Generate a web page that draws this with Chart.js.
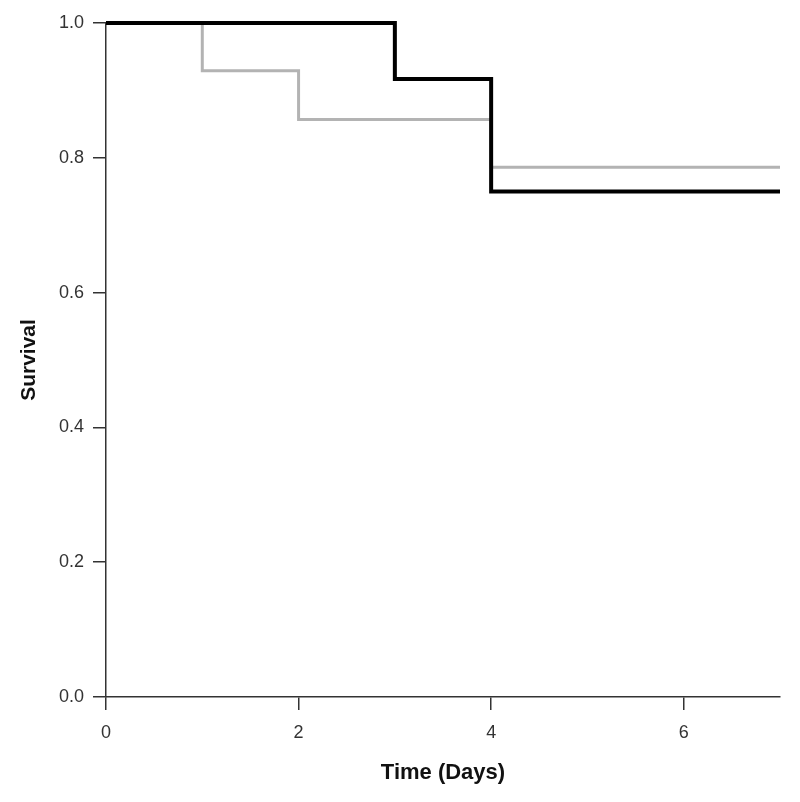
<!DOCTYPE html>
<html><head><meta charset="utf-8">
<script src="https://cdn.jsdelivr.net/npm/chart.js@4/dist/chart.umd.min.js"></script>
<style>html,body{margin:0;padding:0;background:#fff}#wrap{width:800px;height:802px}</style>
</head><body><div id="wrap"><canvas id="c" width="800" height="802"></canvas></div>
<script>
const blackTimes = [0, 3, 4, 7];
const blackSurv = [1.0, 0.917, 0.75, 0.75];
const grayTimes = [0, 1, 2, 4, 7];
const graySurv = [1.0, 0.929, 0.857, 0.786, 0.786];
const xTitle = 'Time (Days)';
const yTitle = 'Survival';

const toPts = (xs, ys) => xs.map((x, i) => ({x: x, y: ys[i]}));
const font = "'Liberation Sans', Arial, sans-serif";
const axisColor = '#333';

new Chart(document.getElementById('c'), {
  type: 'line',
  data: {datasets: [
    {data: toPts(blackTimes, blackSurv), stepped: 'before', borderColor: '#000', borderWidth: 4, pointRadius: 0, fill: false, clip: 6, order: 0},
    {data: toPts(grayTimes, graySurv), stepped: 'before', borderColor: '#b3b3b3', borderWidth: 3, pointRadius: 0, fill: false, clip: 6, order: 1}
  ]},
  options: {
    responsive: false, animation: false,
    layout: {padding: {top: 23, right: 20, left: 0, bottom: 0}},
    plugins: {legend: {display: false}, tooltip: {enabled: false}},
    scales: {
      x: {
        type: 'linear', min: 0, max: 7,
        afterFit: s => { s.height = 105; },
        ticks: {stepSize: 2, includeBounds: false, color: axisColor, font: {family: font, size: 18}, padding: 12, maxRotation: 0},
        grid: {drawOnChartArea: false, drawTicks: true, tickLength: 13, color: axisColor, lineWidth: 1.5},
        border: {display: true, color: axisColor, width: 1.5},
        title: {display: true, text: xTitle, color: '#111', font: {family: font, size: 22, weight: 'bold'}, padding: {top: 0, bottom: 16}}
      },
      y: {
        type: 'linear', min: 0, max: 1,
        afterFit: s => { s.width = 106; },
        ticks: {stepSize: 0.2, color: axisColor, font: {family: font, size: 18}, padding: 9, callback: v => v.toFixed(1)},
        grid: {drawOnChartArea: false, drawTicks: true, tickLength: 13, color: axisColor, lineWidth: 1.5},
        border: {display: true, color: axisColor, width: 1.5},
        title: {display: true, text: yTitle, color: '#111', font: {family: font, size: 21, weight: 'bold'}, padding: {top: 17, bottom: 0}}
      }
    }
  }
});
</script></body></html>
